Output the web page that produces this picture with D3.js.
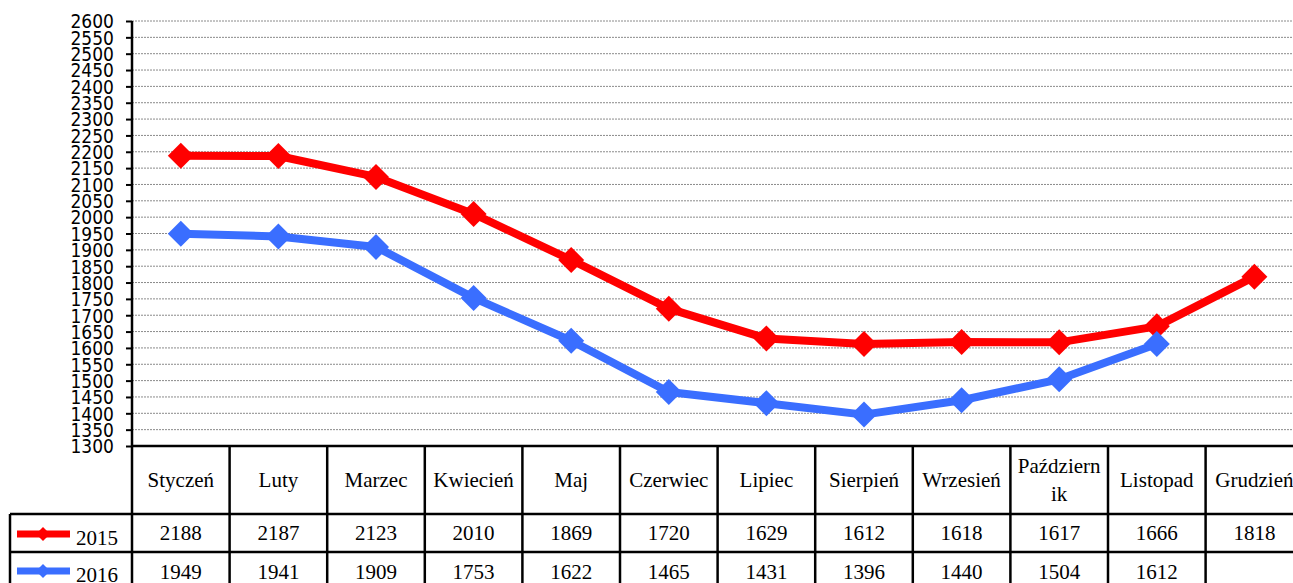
<!DOCTYPE html>
<html>
<head>
<meta charset="utf-8">
<script src="https://cdn.jsdelivr.net/npm/d3@7"></script>
<style>
  body { margin: 0; background: #fff; overflow: hidden; }
  .tick text { font-family: "DejaVu Sans", sans-serif; font-stretch: condensed; }
  .cell { font-family: "Liberation Serif", "Times New Roman", serif; font-size: 21px; fill: #000; }
</style>
</head>
<body>
<div class="chart"></div>
<script>
// data
var months = ["Styczeń", "Luty", "Marzec", "Kwiecień", "Maj", "Czerwiec", "Lipiec",
              "Sierpień", "Wrzesień", "Październik", "Listopad", "Grudzień"];
var monthLines = [["Styczeń"], ["Luty"], ["Marzec"], ["Kwiecień"], ["Maj"], ["Czerwiec"], ["Lipiec"],
                  ["Sierpień"], ["Wrzesień"], ["Październ", "ik"], ["Listopad"], ["Grudzień"]];
var years = ["2015", "2016"];
var values2015 = [2188, 2187, 2123, 2010, 1869, 1720, 1629, 1612, 1618, 1617, 1666, 1818];
var values2016 = [1949, 1941, 1909, 1753, 1622, 1465, 1431, 1396, 1440, 1504, 1612, null];
var yTicks = d3.range(1300, 2601, 50);

var colors = { "2015": "#ff0000", "2016": "#3a6eff" };
var series = [
  { name: "2015", values: values2015 },
  { name: "2016", values: values2016 }
];

var width = 1293;
var height = 583;

var svg = d3.select('.chart').append('svg')
            .attr('width', width)
            .attr('height', height);

var plotLeft = 132, plotTop = 21, plotBottom = 446;
var colW = 97.6;

var x = d3.scaleBand()
          .domain(months)
          .range([plotLeft, plotLeft + colW * months.length])
          .padding(0);

var y = d3.scaleLinear()
          .domain([1300, 2600])
          .range([plotBottom, plotTop]);

// grid lines
svg.append('g').selectAll('line')
   .data(yTicks.filter(function(d){ return d > 1300; }))
   .enter().append('line')
   .attr('x1', plotLeft).attr('x2', width)
   .attr('y1', function(d){ return y(d); })
   .attr('y2', function(d){ return y(d); })
   .attr('stroke', '#8a8a8a')
   .attr('stroke-width', 1)
   .attr('stroke-dasharray', '2,1');

// y axis
var yAxis = d3.axisLeft(y).tickValues(yTicks).tickFormat(d3.format('d')).tickSize(6).tickPadding(12);
var yg = svg.append('g').attr('transform', 'translate(' + plotLeft + ',0)').call(yAxis);
yg.select('.domain').remove();
yg.selectAll('.tick line').attr('stroke', '#000').attr('stroke-width', 2);
yg.selectAll('.tick text').attr('font-size', '19px').attr('fill', '#000').attr('dy', '0.36em');
svg.append('line').attr('x1', plotLeft).attr('x2', plotLeft).attr('y1', plotTop).attr('y2', height)
   .attr('stroke', '#000').attr('stroke-width', 2.5);

// table lines
var tableTop = plotBottom, row1 = 514, row2 = 552, legendLeft = 10;
var tl = svg.append('g').attr('stroke', '#000').attr('stroke-width', 2.5);
tl.append('line').attr('x1', plotLeft).attr('x2', width).attr('y1', tableTop).attr('y2', tableTop);
tl.append('line').attr('x1', legendLeft).attr('x2', width).attr('y1', row1).attr('y2', row1);
tl.append('line').attr('x1', legendLeft).attr('x2', width).attr('y1', row2).attr('y2', row2);
tl.append('line').attr('x1', legendLeft).attr('x2', legendLeft).attr('y1', row1).attr('y2', height);
tl.selectAll('.vline').data(months.slice(1)).enter().append('line')
  .attr('x1', function(d){ return x(d); }).attr('x2', function(d){ return x(d); })
  .attr('y1', tableTop).attr('y2', height);

// header
var hdr = svg.append('g');
monthLines.forEach(function(lines, i) {
  var cx = x(months[i]) + x.bandwidth() / 2;
  var t = hdr.append('text').attr('class', 'cell').attr('text-anchor', 'middle')
             .attr('x', cx);
  if (lines.length === 1) {
    t.attr('y', 487).text(lines[0]);
  } else {
    t.append('tspan').attr('x', cx).attr('y', 473).text(lines[0]);
    t.append('tspan').attr('x', cx).attr('y', 501).text(lines[1]);
  }
});

// data rows
var rowY = { "2015": 540, "2016": 579 };
series.forEach(function(s) {
  svg.append('g').selectAll('text')
     .data(s.values)
     .enter().append('text')
     .attr('class', 'cell')
     .attr('text-anchor', 'middle')
     .attr('x', function(d, i){ return x(months[i]) + x.bandwidth() / 2; })
     .attr('y', rowY[s.name])
     .text(function(d){ return d == null ? '' : d; });
});

// legend keys
var legendY = { "2015": 534, "2016": 571 };
function diamond(size) {
  return 'M0,' + (-size) + 'L' + size + ',0L0,' + size + 'L' + (-size) + ',0Z';
}
series.forEach(function(s) {
  var g = svg.append('g');
  g.append('line').attr('x1', 17).attr('x2', 70)
   .attr('y1', legendY[s.name]).attr('y2', legendY[s.name])
   .attr('stroke', colors[s.name]).attr('stroke-width', 7);
  g.append('path').attr('d', diamond(7))
   .attr('transform', 'translate(43,' + legendY[s.name] + ')')
   .attr('fill', colors[s.name]);
  g.append('text').attr('class', 'cell').attr('x', 76).attr('y', legendY[s.name] + 11)
   .attr('font-size', '22px').text(s.name);
});

// lines
var line = d3.line()
  .defined(function(d){ return d != null; })
  .x(function(d, i){ return x(months[i]) + x.bandwidth() / 2; })
  .y(function(d){ return y(d); });

series.forEach(function(s) {
  svg.append('path')
     .attr('d', line(s.values))
     .attr('fill', 'none')
     .attr('stroke', colors[s.name])
     .attr('stroke-width', 8)
     .attr('stroke-linejoin', 'round');
  svg.append('g').selectAll('path')
     .data(s.values.map(function(v, i){ return { v: v, m: months[i] }; })
                   .filter(function(d){ return d.v != null; }))
     .enter().append('path')
     .attr('d', diamond(13))
     .attr('transform', function(d){
       return 'translate(' + (x(d.m) + x.bandwidth() / 2) + ',' + y(d.v) + ')';
     })
     .attr('fill', colors[s.name]);
});
</script>
</body>
</html>
